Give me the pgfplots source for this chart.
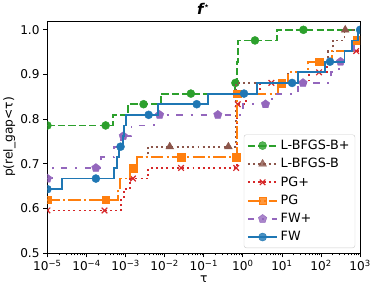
\documentclass[border=0pt]{standalone}
\usepackage{fontspec}
\setmainfont{DejaVu Sans}
\usepackage{pgfplots}
\pgfplotsset{compat=1.18}
\usetikzlibrary{plotmarks}
\definecolor{tabblue}{HTML}{1F77B4}
\definecolor{taborange}{HTML}{FF7F0E}
\definecolor{tabgreen}{HTML}{2CA02C}
\definecolor{tabred}{HTML}{D62728}
\definecolor{tabpurple}{HTML}{9467BD}
\definecolor{tabbrown}{HTML}{8C564B}
\pgfplotsset{
  Sgreen/.style={tabgreen, line width=1.9pt, dash pattern=on 7.4pt off 3.2pt, mark=*, mark size=4.1pt, mark options={solid, line width=0.4pt, fill=tabgreen}},
  Sbrown/.style={tabbrown, line width=1.9pt, dash pattern=on 2pt off 3.3pt, mark=triangle*, mark size=4.6pt, mark options={solid, line width=0.4pt, fill=tabbrown}},
  Sred/.style={tabred, line width=1.9pt, dash pattern=on 2pt off 3.3pt, mark=x, mark size=4pt, mark options={solid, line width=1.2pt}},
  Sorange/.style={taborange, line width=1.9pt, dash pattern=on 12.8pt off 3.2pt on 2pt off 3.2pt, mark=square*, mark size=3.9pt, mark options={solid, line width=0.4pt, fill=taborange}},
  Spurple/.style={tabpurple, line width=1.9pt, dash pattern=on 6.5pt off 8pt on 2pt off 8pt, mark=pentagon*, mark size=4.5pt, mark options={solid, line width=0.4pt, fill=tabpurple}},
  Sblue/.style={tabblue, line width=1.9pt, mark=*, mark size=4.1pt, mark options={solid, line width=0.4pt, fill=tabblue}},
}
\begin{document}
\begin{tikzpicture}
\begin{axis}[
  scale only axis, width=318pt, height=236pt,
  xmin=-5, xmax=3, ymin=0.5, ymax=1.02,
  xtick={-5,-4,-3,-2,-1,0,1,2,3},
  xticklabels={10\textsuperscript{−5},10\textsuperscript{−4},10\textsuperscript{−3},10\textsuperscript{−2},10\textsuperscript{−1},10\textsuperscript{0},10\textsuperscript{1},10\textsuperscript{2},10\textsuperscript{3}},
  minor xtick={-4.699,-4.523,-4.398,-4.301,-4.222,-4.155,-4.097,-4.046,
    -3.699,-3.523,-3.398,-3.301,-3.222,-3.155,-3.097,-3.046,
    -2.699,-2.523,-2.398,-2.301,-2.222,-2.155,-2.097,-2.046,
    -1.699,-1.523,-1.398,-1.301,-1.222,-1.155,-1.097,-1.046,
    -0.699,-0.523,-0.398,-0.301,-0.222,-0.155,-0.097,-0.046,
    0.301,0.477,0.602,0.699,0.778,0.845,0.903,0.954,
    1.301,1.477,1.602,1.699,1.778,1.845,1.903,1.954,
    2.301,2.477,2.602,2.699,2.778,2.845,2.903,2.954},
  ytick={0.5,0.6,0.7,0.8,0.9,1.0},
  yticklabels={0.5,0.6,0.7,0.8,0.9,1.0},
  tick pos=left, tick align=outside,
  major tick length=4.5pt, minor tick length=2.5pt,
  every tick/.style={black, line width=0.8pt},
  axis line style={black, line width=0.8pt},
  ticklabel style={font=\fontsize{12.3}{14}\selectfont},
  xticklabel style={yshift=1pt},
  title={\fontsize{15}{16}\selectfont\bfseries\itshape f\textsuperscript{\upshape\mdseries ⋆}},
  title style={yshift=-3pt},
  xlabel={τ}, ylabel={p(rel\_gap<τ)},
  label style={font=\fontsize{12.5}{14}\selectfont},
  xlabel style={yshift=2pt},
  ylabel style={yshift=-2pt},
  clip marker paths=true,
  legend cell align=left,
  legend style={at={(1,0)}, anchor=south east, xshift=-5pt, yshift=5pt,
    draw=black!20, rounded corners=2.5pt, fill=white, fill opacity=0.8, text opacity=1,
    font=\fontsize{13}{15}\selectfont, row sep=2.5pt, inner sep=3pt,
    nodes={inner sep=2.5pt}},
  legend image code/.code={\draw[mark repeat=2, mark phase=2] plot coordinates {(0pt,0pt) (15pt,0pt) (30pt,0pt)};},
]
% L-BFGS-B+
\addplot[Sgreen, no marks, const plot mark left, forget plot] coordinates {
(-5,0.7857)(-3.33,0.8095)(-2.93,0.8333)(-2.10,0.8571)(-0.20,0.8810)(-0.15,0.9286)(-0.13,0.9762)(0.87,1.0)(3,1.0)};
\addplot[Sgreen, only marks, forget plot] coordinates {
(-5,0.7857)(-3.51,0.7857)(-2.54,0.8333)(-1.33,0.8571)(-0.19,0.8810)(0.31,0.9762)(1.55,1.0)};
% L-BFGS-B
\addplot[Sbrown, no marks, const plot mark left, forget plot] coordinates {
(-5,0.6190)(-3.19,0.6429)(-3.14,0.6667)(-2.88,0.6905)(-2.71,0.7143)(-2.43,0.7381)(-0.18,0.8810)(1.15,0.9048)(1.67,0.9286)(2.17,0.9524)(2.3,0.9762)(2.6,1.0)(3,1.0)};
\addplot[Sbrown, only marks, forget plot] coordinates {
(-1.87,0.7381)(-0.37,0.7381)(2.62,1.0)};
% PG+
\addplot[Sred, no marks, const plot mark left, forget plot] coordinates {
(-5,0.5952)(-3.12,0.6190)(-3.05,0.6429)(-2.88,0.6667)(-2.42,0.6905)(-0.15,0.8333)(0.08,0.8571)(0.45,0.8810)(1.7,0.9048)(2.15,0.9286)(2.6,0.9524)(3,0.9524)};
\addplot[Sred, only marks, forget plot] coordinates {
(-5,0.5952)(-3.54,0.5952)(-2.81,0.6667)(-1.58,0.6905)(-0.17,0.6905)(-0.13,0.8333)(0.73,0.8810)(1.95,0.9048)(2.9,0.9524)};
% PG
\addplot[Sorange, no marks, const plot mark left, forget plot] coordinates {
(-5,0.6190)(-3.19,0.6429)(-3.14,0.6667)(-2.88,0.6905)(-2.71,0.7143)(-0.16,0.8571)(0.89,0.8810)(1.16,0.9048)(1.67,0.9286)(2.28,0.9524)(2.85,0.9762)(3,0.9762)};
\addplot[Sorange, only marks, forget plot] coordinates {
(-5,0.6190)(-3.51,0.6190)(-2.81,0.6905)(-1.58,0.7143)(-0.17,0.7143)(-0.15,0.8571)(0.99,0.8810)(1.96,0.9286)(2.92,0.9762)};
% FW+
\addplot[Spurple, no marks, const plot mark left, forget plot] coordinates {
(-5,0.6667)(-4.87,0.6905)(-3.62,0.7143)(-3.3,0.7381)(-3.12,0.7619)(-2.85,0.7857)(-2.28,0.8095)(0.0,0.8333)(0.75,0.8571)(1.42,0.8810)(2.25,0.9048)(2.45,0.9286)(2.6,0.9524)(2.85,0.9762)(3,0.9762)};
\addplot[Spurple, only marks, forget plot] coordinates {
(-5,0.6667)(-3.76,0.6905)(-3.06,0.7619)(-2.13,0.8095)(-0.64,0.8095)(0.58,0.8333)(1.54,0.8810)(2.5,0.9286)};
% FW
\addplot[Sblue, no marks, const plot mark left, forget plot] coordinates {
(-5,0.6429)(-4.62,0.6667)(-3.29,0.6905)(-3.22,0.7143)(-3.17,0.7381)(-3.06,0.7619)(-3.04,0.7857)(-3.0,0.8095)(-2.18,0.8333)(-0.9,0.8571)(0.36,0.8810)(1.42,0.9048)(2.1,0.9286)(2.6,0.9524)(2.8,0.9762)(2.95,1.0)(3,1.0)};
\addplot[Sblue, only marks, forget plot] coordinates {
(-5,0.6429)(-3.76,0.6667)(-3.13,0.7381)(-2.41,0.8095)(-1.18,0.8333)(0.03,0.8571)(1.26,0.8810)(2.23,0.9286)(3,1.0)};
\addlegendimage{Sgreen}
\addlegendimage{Sbrown}
\addlegendimage{Sred}
\addlegendimage{Sorange}
\addlegendimage{Spurple}
\addlegendimage{Sblue}
\legend{L-BFGS-B+,L-BFGS-B,PG+,PG,FW+,FW}
\end{axis}
\end{tikzpicture}
\end{document}
